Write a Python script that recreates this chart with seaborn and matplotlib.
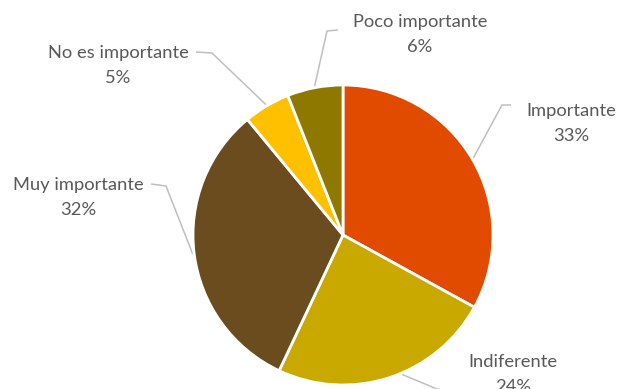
import matplotlib
matplotlib.use("Agg")
import matplotlib.pyplot as plt
import seaborn as sns
import numpy as np

# Survey answers: share of responses per importance level
categories = ["Importante", "Indiferente", "Muy importante", "No es importante", "Poco importante"]
shares = [33, 24, 32, 5, 6]
colors = ["#E04B00", "#C9A900", "#6B4C1F", "#FFC000", "#8E7800"]

sns.set_theme(style="white")
plt.rcParams["font.family"] = ["Lato", "DejaVu Sans"]

W, H = 619, 389
fig = plt.figure(figsize=(W / 100, H / 100), dpi=100)
ax = fig.add_axes([0, 0, 1, 1])

cx, cy, R = 343, H - 235, 150
wedges, _ = ax.pie(
    shares, colors=colors, startangle=90, counterclock=False,
    center=(cx, cy), radius=R,
    wedgeprops=dict(edgecolor="white", linewidth=2),
)
ax.set_xlim(0, W)
ax.set_ylim(0, H)
ax.set_aspect("equal")
ax.axis("off")

# label block (centre x, first-line y), leader elbow / tail and anchor-angle nudge (y from top)
layout = {
    "Importante":       dict(text=(571, 111), elbow=(502, 105), tail=(511, 105), nudge=0),
    "Indiferente":      dict(text=(513, 362), elbow=(437, 389), tail=(452, 392), nudge=5),
    "Muy importante":   dict(text=(78, 185),  elbow=(166, 186), tail=(151, 184), nudge=0),
    "No es importante": dict(text=(118, 53),  elbow=(212, 53),  tail=(196, 52), nudge=0),
    "Poco importante":  dict(text=(420, 22),  elbow=(327, 31),  tail=(338, 30), nudge=0),
}

total = sum(shares)
for w, name, val in zip(wedges, categories, shares):
    lay = layout[name]
    mid = np.deg2rad((w.theta1 + w.theta2) / 2 + lay["nudge"])
    px, py = cx + R * 1.01 * np.cos(mid), cy + R * 1.01 * np.sin(mid)
    ex, ey = lay["elbow"]
    tx, ty = lay["tail"]
    ax.plot([px, ex, tx], [py, H - ey, H - ty], color="#BFBFBF", lw=1.1,
            solid_capstyle="butt", zorder=0, clip_on=False)
    lx, ly = lay["text"]
    ax.text(lx, H - ly, name, ha="center", va="center", fontsize=13.2, color="#595959")
    ax.text(lx, H - ly - 25, f"{round(100 * val / total)}%", ha="center", va="center",
            fontsize=13.2, color="#595959")

fig.savefig("out.png", dpi=100)
